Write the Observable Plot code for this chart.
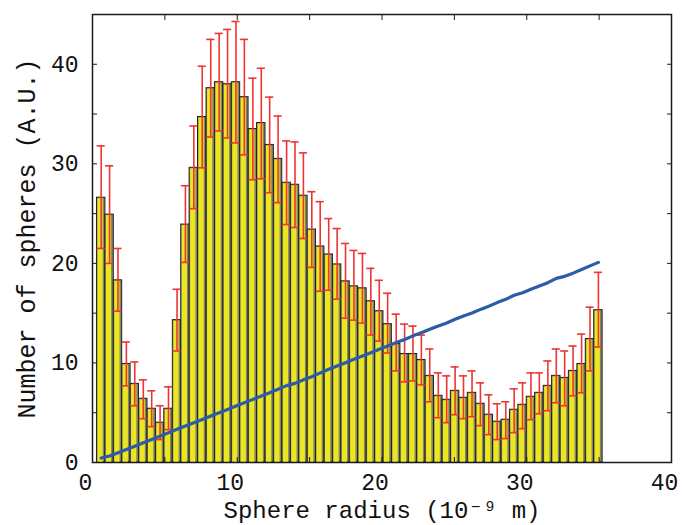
<!DOCTYPE html>
<html><head><meta charset="utf-8">
<script src="https://cdn.jsdelivr.net/npm/d3@7"></script>
<script src="https://cdn.jsdelivr.net/npm/@observablehq/plot@0.6"></script>
<style>body{margin:0;background:#fff} #chart svg{display:block}</style>
</head><body><div id="chart"></div>
<script>
// Bin centres (sphere radius, 1e-9 m)
const radius = [0.60,1.18,1.76,2.34,2.92,3.51,4.09,4.67,5.25,5.84,6.42,7.00,7.58,8.17,8.75,9.33,9.91,10.49,11.08,11.66,
  12.24,12.82,13.41,13.99,14.57,15.15,15.73,16.32,16.90,17.48,18.06,18.65,19.23,19.81,20.39,20.98,21.56,22.14,22.72,23.30,
  23.89,24.47,25.05,25.63,26.22,26.80,27.38,27.96,28.55,29.13,29.71,30.29,30.87,31.46,32.04,32.62,33.20,33.79,34.37,34.95];
// Number of spheres (A.U.)
const counts = [26.6,24.9,18.3,9.9,7.9,6.4,5.4,4.0,5.4,14.3,23.9,29.6,34.7,37.6,38.2,38.0,38.2,36.7,33.5,34.1,
  31.9,30.5,28.1,27.9,26.8,23.4,21.7,20.9,19.9,18.2,17.7,17.5,16.2,15.2,13.9,11.9,10.9,10.9,10.3,8.7,
  6.7,6.3,7.2,6.5,7.0,5.9,4.8,4.1,4.3,5.3,5.8,6.6,7.0,7.7,8.7,8.5,9.2,9.9,12.4,15.3];
// Error bar ends
const errHigh = [31.8,29.8,21.5,12.1,10.1,8.3,7.2,5.7,7.6,17.4,27.8,33.8,39.8,42.5,43.1,43.5,44.3,42.5,38.6,39.6,
  36.7,34.8,32.3,32.2,31.1,27.2,26.2,24.5,23.5,22.0,21.3,21.0,19.5,18.3,17.0,14.9,13.9,13.7,12.8,11.4,
  9.0,8.7,9.6,8.7,9.2,8.0,6.8,5.9,6.1,7.4,8.0,9.0,9.0,10.2,11.4,11.2,11.7,12.9,15.6,19.1];
const errLow = [21.5,20.0,15.2,7.7,5.7,4.4,3.6,2.3,3.3,11.2,20.1,25.5,29.6,32.7,33.3,32.6,32.1,30.9,28.4,28.5,
  27.1,26.1,23.9,23.6,22.5,19.6,17.2,17.3,16.4,14.5,14.3,14.0,12.8,12.2,11.0,9.2,8.1,8.2,7.8,6.1,
  4.5,4.0,4.8,4.4,4.6,3.7,2.8,2.3,2.4,3.0,3.4,4.3,4.9,5.2,6.0,5.7,6.7,7.0,9.2,11.6];
// Blue curve
const trend = [0.45,0.65,0.98,1.30,1.64,1.98,2.32,2.65,2.99,3.33,3.66,3.99,4.33,4.67,5.00,5.33,5.67,6.00,6.34,6.67,
  7.01,7.35,7.72,7.95,8.30,8.62,9.00,9.36,9.69,10.03,10.36,10.70,11.03,11.37,11.70,12.06,12.36,12.72,13.04,13.38,
  13.71,14.02,14.38,14.72,15.02,15.38,15.70,16.06,16.39,16.80,17.06,17.40,17.73,18.06,18.50,18.70,19.02,19.38,19.75,20.10];
const binWidth = 0.5823;
const xTickLabels = [0,10,20,30,40];
const xTicksAll = [0,5,10,15,20,25,30,35,40];
const yTickLabels = [0,10,20,30,40];
const yTicksAll = [0,5,10,15,20,25,30,35,40,45];
const xLabel = "Sphere radius (10\u207B\u2079 m)";
const yLabel = "Number of spheres (A.U.)";

const data = radius.map((r, i) => ({r, count: counts[i], lo: errLow[i], hi: errHigh[i], fit: trend[i]}));
const hw = binWidth / 2;
const cap = 0.28;
const red = "#ef3434";
const font = "'Liberation Mono', 'DejaVu Sans Mono', monospace";

const chart = Plot.plot({
  width: 682, height: 525,
  marginLeft: 92, marginRight: 11, marginTop: 14, marginBottom: 63,
  style: {fontFamily: font, fontSize: "23px", background: "#fff", color: "#111"},
  x: {domain: [0, 40]},
  y: {domain: [0, 45]},
  marks: [
    Plot.rectY(data, {x1: d => d.r - hw, x2: d => d.r + hw, y1: 0, y2: "count", fill: "#85856a", stroke: "#222", strokeWidth: 1}),
    Plot.rectY(data, {x1: d => d.r - hw, x2: d => d.r + hw, y1: 0, y2: "count", fill: "#ebe61f", insetLeft: 1, insetRight: 2.2, insetTop: 1}),
    Plot.ruleX(data, {x: "r", y1: "lo", y2: "hi", stroke: red, strokeWidth: 1.6}),
    Plot.ruleY(data, {y: "hi", x1: d => d.r - cap, x2: d => d.r + cap, stroke: red, strokeWidth: 1.6}),
    Plot.ruleY(data, {y: "lo", x1: d => d.r - cap, x2: d => d.r + cap, stroke: red, strokeWidth: 1.6}),
    Plot.line(data, {x: "r", y: "fit", stroke: "#2a5ca8", strokeWidth: 3.2}),
    Plot.frame({stroke: "#1a1a1a", strokeWidth: 1.5}),
    Plot.axisX(xTicksAll, {anchor: "bottom", tickSize: -5, tickFormat: () => "", label: null, stroke: "#1a1a1a"}),
    Plot.axisX(xTicksAll, {anchor: "top", tickSize: -5, tickFormat: () => "", label: null, stroke: "#1a1a1a"}),
    Plot.axisY(yTicksAll, {anchor: "left", tickSize: -5, tickFormat: () => "", label: null, stroke: "#1a1a1a"}),
    Plot.axisY(yTicksAll, {anchor: "right", tickSize: -5, tickFormat: () => "", label: null, stroke: "#1a1a1a"}),
    Plot.axisX(xTickLabels, {anchor: "bottom", tickSize: 0, tickPadding: 11, dx: -7, label: null, fill: "#111"}),
    Plot.axisY(yTickLabels, {anchor: "left", tickSize: 0, tickPadding: 14, label: null, fill: "#111"}),
    Plot.text([xLabel], {frameAnchor: "bottom", text: d => d, dy: 55, fontSize: 24, fill: "#111"}),
    Plot.text([yLabel], {frameAnchor: "left", text: d => d, dx: -66, rotate: -90, textAnchor: "middle", fontSize: 25, fill: "#111"})
  ]
});
document.getElementById("chart").appendChild(chart);
</script>
</body></html>
